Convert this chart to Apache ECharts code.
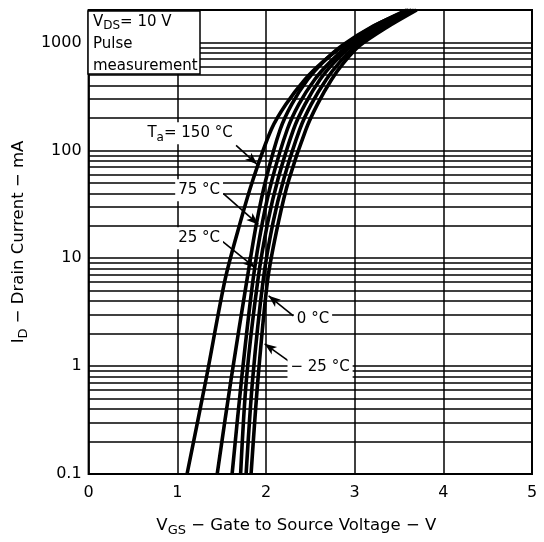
<!DOCTYPE html>
<html><head><meta charset="utf-8">
<script src="https://cdn.jsdelivr.net/npm/echarts@6/dist/echarts.min.js"></script>
<style>html,body{margin:0;padding:0;background:#fff}#c{width:544px;height:542px}</style>
</head><body><div id="c"></div>
<script>
// Drain current levels (mA) at which each curve's V_GS was read
const idLevels = [0.1, 0.76, 6.4, 21.5, 54, 156, 267, 454, 654, 938, 1377, 2000];
// V_GS (V) of each curve at those current levels
const vgsCurve1 = [1.11, 1.325, 1.54, 1.71, 1.855, 2.06, 2.225, 2.44, 2.635, 2.875, 3.19, 3.59]; // Ta = 150 °C
const vgsCurve2 = [1.45, 1.607, 1.787, 1.895, 2.0, 2.16, 2.29, 2.47, 2.64, 2.86, 3.18, 3.61];
const vgsCurve3 = [1.618, 1.725, 1.855, 1.96, 2.07, 2.24, 2.37, 2.55, 2.72, 2.93, 3.24, 3.64];
const vgsCurve4 = [1.714, 1.78, 1.91, 2.02, 2.135, 2.31, 2.44, 2.61, 2.77, 2.97, 3.28, 3.66];
const vgsCurve5 = [1.776, 1.85, 1.97, 2.08, 2.20, 2.38, 2.51, 2.68, 2.83, 3.02, 3.32, 3.68];
const vgsCurve6 = [1.832, 1.91, 2.02, 2.14, 2.26, 2.45, 2.58, 2.74, 2.88, 3.06, 3.36, 3.70];
const curves = [vgsCurve1, vgsCurve2, vgsCurve3, vgsCurve4, vgsCurve5, vgsCurve6];

// axis
const xMin = 0, xMax = 5, xStep = 1;
const yMin = 0.1, yMax = 2000;
const yDecadeLabels = {'-1': '0.1', '0': '1', '1': '10', '2': '100', '3': '1000'};
const gridDecades = [0.1, 1, 10, 100, 1000];
const gridMultipliers = [1, 2, 3, 4, 5, 6, 7, 8, 9];

// annotations: label text, label position [V, mA], arrow from, arrow to
const annLabels = ['{n|T}{s|a}{n|= 150 °C}', '{n|75 °C}', '{n|25 °C}', '{n|0 °C}', '{n|− 25 °C}'];
const annLabelPos = [[1.144, 144], [1.246, 42.7], [1.246, 15.3], [2.53, 2.74], [2.61, 0.98]];
const annArrowFrom = [[1.663, 111], [1.52, 39.7], [1.502, 14.45], [2.309, 2.93], [2.253, 1.12]];
const annArrowTo = [[1.90, 74.2], [1.914, 20.6], [1.877, 8.2], [2.03, 4.48], [1.985, 1.61]];

const gridValues = [];
gridDecades.forEach(d => gridMultipliers.forEach(m => {
  const v = +(d * m).toPrecision(6);
  if (v >= yMin && v <= yMax) gridValues.push(v);
}));

const FONT = 'DejaVu Sans';
const rich = {
  n: {fontFamily: FONT, fontSize: 15, color: '#000', lineHeight: 20, fontWeight: 'normal'},
  s: {fontFamily: FONT, fontSize: 12, color: '#000', lineHeight: 20, padding: [9, 0, 0, 0], fontWeight: 'normal'}
};
const richName = {
  n: {fontFamily: FONT, fontSize: 16.5, color: '#000', lineHeight: 22, fontWeight: 'normal'},
  s: {fontFamily: FONT, fontSize: 13, color: '#000', lineHeight: 22, padding: [9, 0, 0, 0], fontWeight: 'normal'}
};

const chart = echarts.init(document.getElementById('c'), null, {renderer: 'canvas'});

const series = [];
series.push({
  type: 'line', data: [], z: 1, silent: true,
  markLine: {
    silent: true, symbol: ['none', 'none'], animation: false,
    label: {show: false},
    lineStyle: {color: '#000', width: 1.7, type: 'solid'},
    data: gridValues.map(v => ({yAxis: v}))
  }
});
curves.forEach((c, k) => {
  series.push({
    type: 'line', z: 5, smooth: 0.3, symbol: 'none', animation: false, clip: true,
    lineStyle: {color: '#000', width: 3.6},
    data: idLevels.map((y, i) => [c[i], y])
  });
});
series.push({
  type: 'scatter', data: [], z: 10, animation: false,
  markLine: {
    silent: true, animation: false, symbol: ['none', 'arrow'], symbolSize: [7, 12],
    label: {show: false},
    lineStyle: {color: '#000', width: 1.6, type: 'solid'},
    data: annArrowFrom.map((f, i) => [{coord: f}, {coord: annArrowTo[i]}])
  },
  markPoint: {
    silent: true, animation: false, symbol: 'circle', symbolSize: 1,
    itemStyle: {color: 'rgba(0,0,0,0)'},
    data: annLabelPos.map((p, i) => ({
      coord: p,
      label: {show: true, position: 'inside', formatter: annLabels[i], rich: rich,
        backgroundColor: '#fff', padding: [1, 3, 1, 3]}
    }))
  }
});

chart.setOption({
  animation: false,
  backgroundColor: '#fff',
  title: {
    left: 88, top: 10, z: 20,
    text: '{n|V}{s|DS}{n|= 10 V}\n{n|Pulse}\n{n|measurement}',
    textStyle: {fontWeight: 'normal', rich: {
      n: {fontFamily: FONT, fontSize: 15, color: '#000', lineHeight: 22, fontWeight: 'normal'},
      s: {fontFamily: FONT, fontSize: 12, color: '#000', lineHeight: 22, padding: [8, 0, 0, 0], fontWeight: 'normal'}
    }},
    backgroundColor: '#fff', borderColor: '#000', borderWidth: 1.5,
    padding: [1, 3, 1, 5]
  },
  grid: {left: 88, right: 12, top: 10, bottom: 67, show: true, borderColor: '#000', borderWidth: 2, z: 8},
  xAxis: {
    type: 'value', min: xMin, max: xMax, interval: xStep,
    axisLine: {show: false}, axisTick: {show: false},
    axisLabel: {color: '#000', fontFamily: FONT, fontSize: 16, margin: 11},
    splitLine: {show: true, lineStyle: {color: '#000', width: 1.5}},
    name: '{n|V}{s|GS}{n| − Gate to Source Voltage − V}',
    nameLocation: 'middle', nameGap: 41,
    nameTextStyle: {rich: richName, padding: [0, 28, 0, 0]}
  },
  yAxis: {
    type: 'log', logBase: 10, min: yMin, max: yMax,
    axisLine: {show: false}, axisTick: {show: false},
    splitLine: {show: false},
    axisLabel: {
      color: '#000', fontFamily: FONT, fontSize: 16, margin: 7,
      showMaxLabel: false,
      formatter: v => {
        const lg = Math.log10(v);
        const r = Math.round(lg);
        if (Math.abs(lg - r) < 1e-6 && yDecadeLabels[String(r)] !== undefined) return yDecadeLabels[String(r)];
        return '';
      }
    },
    name: '{n|I}{s|D}{n| − Drain Current − mA}',
    nameLocation: 'middle', nameRotate: 90, nameGap: 55,
    nameTextStyle: {rich: richName}
  },
  series: series
});
</script></body></html>
